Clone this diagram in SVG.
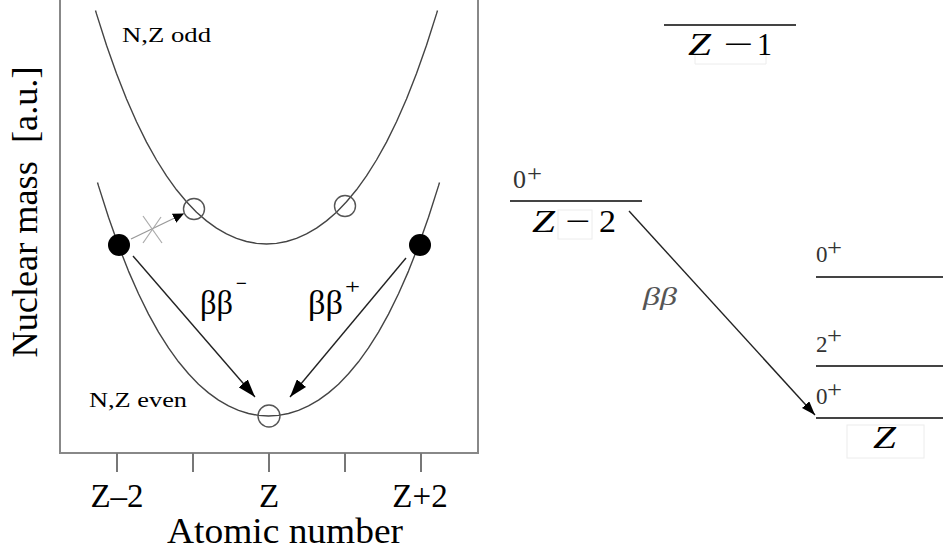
<svg xmlns="http://www.w3.org/2000/svg" width="943" height="554" viewBox="0 0 943 554">
<style>
.serif{font-family:"Liberation Serif","Times New Roman",serif;fill:#000}
.it{font-style:italic}
.curve{fill:none;stroke:#444;stroke-width:1.4;stroke-linejoin:round}
.frame{fill:none;stroke:#888;stroke-width:2}
.tick{stroke:#777;stroke-width:2}
.arr{stroke:#222;stroke-width:1.4;fill:none}
.lvl{stroke:#444;stroke-width:1.8}
.faint{fill:none;stroke:#ececec;stroke-width:1}
.lbl{fill:#333}
</style>
<defs>
<marker id="ahL" markerWidth="18" markerHeight="12" refX="18" refY="6" orient="auto" markerUnits="userSpaceOnUse"><path d="M0,0 L18,6 L0,12 z" fill="#000"/></marker>
<marker id="ahS" markerWidth="11" markerHeight="10" refX="11" refY="5" orient="auto" markerUnits="userSpaceOnUse"><path d="M0,0 L11,5 L0,10 z" fill="#000"/></marker>
<marker id="ahR" markerWidth="14" markerHeight="10" refX="14" refY="5" orient="auto" markerUnits="userSpaceOnUse"><path d="M0,0 L14,5 L0,10 z" fill="#000"/></marker>
</defs>
<rect width="943" height="554" fill="#fff"/>

<g id="axes">
<path class="frame" d="M60,-2 V453 H478 V-2"/>
<line class="tick" x1="117" y1="453" x2="117" y2="472"/>
<line class="tick" x1="193" y1="453" x2="193" y2="472"/>
<line class="tick" x1="269" y1="453" x2="269" y2="472"/>
<line class="tick" x1="345" y1="453" x2="345" y2="472"/>
<line class="tick" x1="421" y1="453" x2="421" y2="472"/>
<text class="serif" x="117" y="507" font-size="33" text-anchor="middle">Z–2</text>
<text class="serif" x="269" y="507" font-size="33" text-anchor="middle">Z</text>
<text class="serif" x="420" y="507" font-size="33" text-anchor="middle">Z+2</text>
<text class="serif" x="167" y="543" font-size="35" textLength="236" lengthAdjust="spacingAndGlyphs">Atomic number</text>
<text class="serif" transform="translate(37,212) rotate(-90)" font-size="36" text-anchor="middle" textLength="291" lengthAdjust="spacingAndGlyphs">Nuclear mass&#160; [a.u.]</text>
</g>

<g id="odd-parabola">
<polyline class="curve" points="95.5,10.5 96.5,13.9 106.5,45.3 116.5,73.6 126.5,99 136.5,121.8 146.5,142.1 156.5,160 166.5,175.9 176.5,189.8 186.5,201.8 196.5,212.2 206.5,220.9 216.5,228.1 226.5,233.9 236.5,238.4 246.5,241.5 256.5,243.4 266.5,244 276.5,243.4 286.5,241.5 296.5,238.4 306.5,233.9 316.5,228.1 326.5,220.9 336.5,212.2 346.5,201.8 356.5,189.8 366.5,175.9 376.5,160 386.5,142.1 396.5,121.8 406.5,99 416.5,73.6 426.5,45.3 436.5,13.9 437.5,10.5"/>
<text class="serif" x="122" y="42" font-size="22" textLength="89" lengthAdjust="spacingAndGlyphs">N,Z odd</text>
</g>

<g id="even-parabola">
<polyline class="curve" points="97.5,182.5 98.5,185.9 108.5,217.3 118.5,245.6 128.5,271.1 138.5,293.8 148.5,314.1 158.5,332.1 168.5,347.9 178.5,361.8 188.5,373.8 198.5,384.2 208.5,392.9 218.5,400.1 228.5,405.9 238.5,410.4 248.5,413.5 258.5,415.4 268.5,416 278.5,415.4 288.5,413.5 298.5,410.4 308.5,405.9 318.5,400.1 328.5,392.9 338.5,384.2 348.5,373.8 358.5,361.8 368.5,347.9 378.5,332.1 388.5,314.1 398.5,293.8 408.5,271.1 418.5,245.6 428.5,217.3 438.5,185.9 439.5,182.5"/>
<text class="serif" x="89" y="407" font-size="22" textLength="98" lengthAdjust="spacingAndGlyphs">N,Z even</text>
</g>

<g id="nucleus-Zm2"><circle cx="119" cy="245" r="11" fill="#000"/></g>
<g id="nucleus-Zp2"><circle cx="420" cy="245" r="11" fill="#000"/></g>
<g id="nucleus-Zm1"><circle cx="194" cy="209" r="10.5" fill="none" stroke="#555" stroke-width="1.4"/></g>
<g id="nucleus-Zp1"><circle cx="345" cy="206" r="10.5" fill="none" stroke="#555" stroke-width="1.4"/></g>
<g id="nucleus-Z"><circle cx="269" cy="416" r="11" fill="none" stroke="#555" stroke-width="1.4"/></g>

<g id="connectors">
<line class="arr" x1="133" y1="256" x2="255" y2="397" marker-end="url(#ahL)"/>
<line class="arr" x1="406" y1="258" x2="290" y2="397" marker-end="url(#ahL)"/>
<line x1="131" y1="239" x2="184" y2="213.5" stroke="#999" stroke-width="1.3" marker-end="url(#ahS)"/>
<line x1="143" y1="216" x2="162" y2="243" stroke="#aaa" stroke-width="1.2"/>
<line x1="161" y1="217" x2="143" y2="243" stroke="#aaa" stroke-width="1.2"/>
<line x1="629" y1="211" x2="815" y2="415" stroke="#222" stroke-width="1.4" marker-end="url(#ahR)"/>
</g>

<g id="labels-left">
<text class="serif" x="200" y="314" font-size="33" textLength="33" lengthAdjust="spacingAndGlyphs">ββ</text>
<text class="serif" x="236" y="292" font-size="26" textLength="11" lengthAdjust="spacingAndGlyphs">−</text>
<text class="serif" x="308" y="314" font-size="33" textLength="35" lengthAdjust="spacingAndGlyphs">ββ</text>
<text class="serif" x="345" y="294" font-size="22" textLength="15" lengthAdjust="spacingAndGlyphs">+</text>
</g>

<g id="level-Zm1">
<line class="lvl" x1="664" y1="25" x2="796" y2="25"/>
<path class="faint" d="M695,54 V64 H766 V54"/>
<text class="serif it" x="688" y="55" font-size="32" textLength="23" lengthAdjust="spacingAndGlyphs">Z</text>
<text class="serif" x="723" y="55" font-size="32" textLength="30" lengthAdjust="spacingAndGlyphs">−</text>
<text class="serif" x="757" y="55" font-size="32" textLength="15" lengthAdjust="spacingAndGlyphs">1</text>
</g>

<g id="level-Zm2">
<rect class="faint" x="558" y="210" width="34" height="29"/>
<line class="lvl" x1="510" y1="201" x2="642" y2="201"/>
<text class="serif lbl" x="513" y="188" font-size="26">0</text>
<text class="serif lbl" x="527" y="181" font-size="24" textLength="15" lengthAdjust="spacingAndGlyphs">+</text>
<text class="serif it" x="532" y="232" font-size="32" textLength="23" lengthAdjust="spacingAndGlyphs">Z</text>
<text class="serif" x="565" y="232" font-size="32" textLength="25" lengthAdjust="spacingAndGlyphs">−</text>
<text class="serif" x="599" y="232" font-size="32" textLength="17" lengthAdjust="spacingAndGlyphs">2</text>
</g>

<g id="level-Z">
<line class="lvl" x1="816" y1="277" x2="943" y2="277"/>
<text class="serif lbl" x="816" y="262" font-size="23">0</text>
<text class="serif lbl" x="827" y="255" font-size="24" textLength="15" lengthAdjust="spacingAndGlyphs">+</text>
<line class="lvl" x1="816" y1="366" x2="943" y2="366"/>
<text class="serif lbl" x="816" y="352" font-size="23">2</text>
<text class="serif lbl" x="827" y="343" font-size="24" textLength="15" lengthAdjust="spacingAndGlyphs">+</text>
<line class="lvl" x1="816" y1="418" x2="943" y2="418"/>
<text class="serif lbl" x="816" y="404" font-size="23">0</text>
<text class="serif lbl" x="827" y="397" font-size="24" textLength="15" lengthAdjust="spacingAndGlyphs">+</text>
<rect class="faint" x="847" y="425" width="77" height="33"/>
<text class="serif it" x="873" y="448" font-size="32" textLength="23" lengthAdjust="spacingAndGlyphs">Z</text>
</g>

<g id="label-bb">
<text class="serif it" x="643" y="305" font-size="26" style="fill:#555" textLength="34" lengthAdjust="spacingAndGlyphs">ββ</text>
</g>
</svg>
